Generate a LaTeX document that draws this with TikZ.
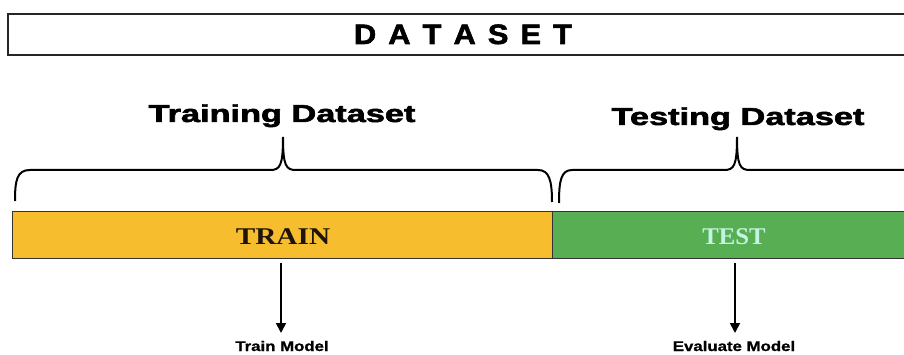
\documentclass[tikz,border=0pt]{standalone}
\usepackage{fontspec}
\setmainfont{Liberation Serif}
\setsansfont{Liberation Sans}
\newfontfamily\heavysans{Liberation Sans}[BoldFeatures={FakeBold=2}]
\newfontfamily\semisans{Liberation Sans}[BoldFeatures={FakeBold=1}]
\usetikzlibrary{arrows.meta}
\definecolor{trainor}{HTML}{F6BE2F}
\definecolor{testgr}{HTML}{58AE53}
\definecolor{testtx}{HTML}{C5F3E3}
\definecolor{traintx}{HTML}{1E1408}
\newcommand{\wide}[2]{\scalebox{#1}[1]{#2}}
\tikzset{
  bar/.style={draw=black!80, line width=1pt, minimum height=46pt, inner sep=0pt, anchor=west},
  barlbl/.style={font=\fontsize{24}{24}\selectfont\rmfamily\bfseries},
  head/.style={font=\fontsize{24.5}{24.5}\selectfont\heavysans\bfseries, anchor=base, inner sep=0pt},
  sub/.style={font=\fontsize{14}{14}\selectfont\semisans\bfseries, anchor=base, inner sep=0pt},
  brace/.style={line width=2pt, black},
  arr/.style={line width=1.8pt, -{Triangle[length=10pt,width=10pt]}}
}
\begin{document}
\begin{tikzpicture}[x=1pt,y=-1pt]
\clip (0,0) rectangle (904,355);
\fill[white] (0,0) rectangle (904,355);
% top dataset box
\node[draw=black!85, line width=1.8pt, minimum width=914pt, minimum height=41pt, inner sep=0pt, anchor=north west] (ds) at (7,13) {};
\node[font=\fontsize{28}{28}\selectfont\heavysans\bfseries, anchor=base, inner sep=0pt] (dstxt) at (463,44)
  {\wide{1.1}{D\hspace{11pt}A\hspace{11pt}T\hspace{11pt}A\hspace{11pt}S\hspace{11pt}E\hspace{11pt}T}};
% headings
\node[head] (trh) at (282,122) {\wide{1.4}{Training Dataset}};
\node[head] (teh) at (738,125) {\wide{1.4}{Testing Dataset}};
% braces
\draw[brace] (15,201) .. controls (15,180) and (17,170) .. (30,170) -- (270,170)
  .. controls (280,170) and (283,166) .. (283,137)
  .. controls (283,166) and (286,170) .. (296,170) -- (538,170)
  .. controls (549,170) and (552,180) .. (552,202);
\draw[brace] (559,203) .. controls (559,181) and (561,170) .. (572,170) -- (724,170)
  .. controls (734,170) and (737,166) .. (737,137)
  .. controls (737,166) and (740,170) .. (750,170) -- (930,170);
% bars
\node[bar, fill=trainor, minimum width=540pt] (train) at (12,235) {};
\node[bar, fill=testgr, minimum width=380pt] (test) at (552,235) {};
\node[barlbl, text=traintx, anchor=base, inner sep=0pt] (traintxt) at (283,244) {\wide{1.22}{TRAIN}};
\node[barlbl, text=testtx, anchor=base, inner sep=0pt] (testtxt) at (734,244) {\wide{1.03}{TEST}};
% bottom labels
\node[sub] (tm) at (282,351) {\wide{1.2}{Train Model}};
\node[sub] (em) at (734,351) {\wide{1.2}{Evaluate Model}};
\coordinate (a1) at (281,263);
\coordinate (a2) at (735,263);
\draw[arr] (a1) -- (a1 |- 0,333);
\draw[arr] (a2) -- (a2 |- 0,333);
\end{tikzpicture}
\end{document}
